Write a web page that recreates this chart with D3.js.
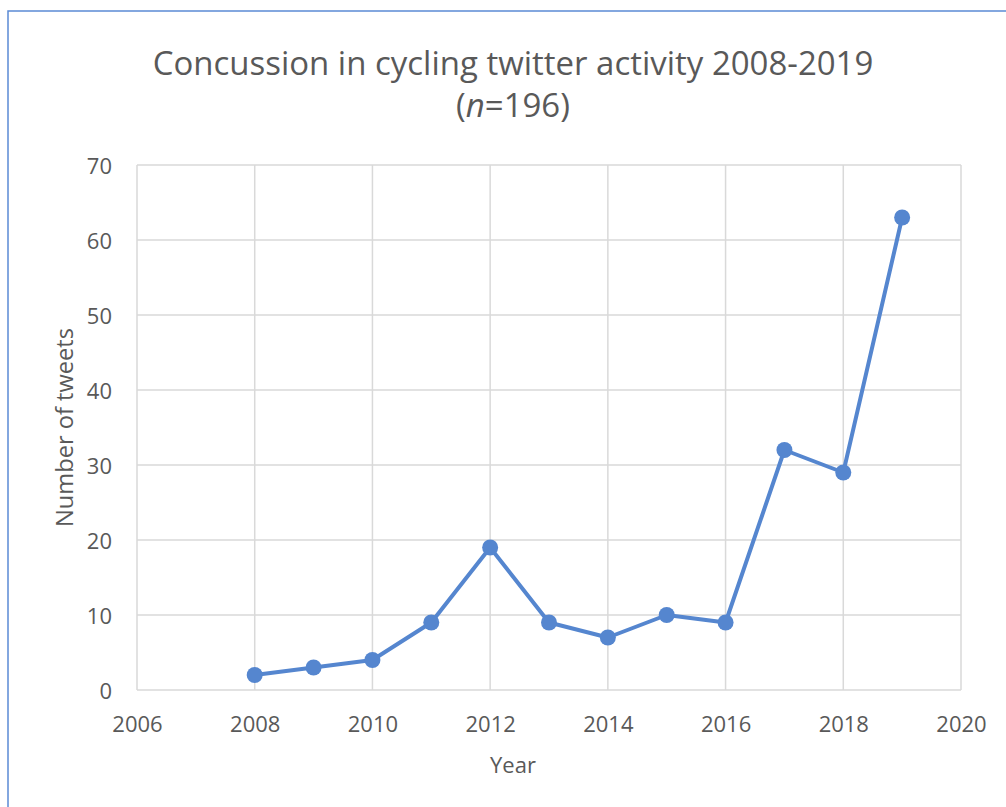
<!DOCTYPE html>
<html><head><meta charset="utf-8">
<script src="https://cdn.jsdelivr.net/npm/d3@7"></script>
<style>body{margin:0;background:#fff;} text{font-family:"Open Sans",sans-serif;fill:#595959;}</style>
</head><body>
<svg id="c" width="1006" height="807"></svg>
<script>
const years = [2008,2009,2010,2011,2012,2013,2014,2015,2016,2017,2018,2019];
const tweets = [2,3,4,9,19,9,7,10,9,32,29,63];
const xTicks = [2006,2008,2010,2012,2014,2016,2018,2020];
const yTicks = [0,10,20,30,40,50,60,70];
const titleLine1 = "Concussion in cycling twitter activity 2008-2019";

const svg = d3.select("#c");
const L=137,R=961,T=165,B=690;
const x = d3.scaleLinear().domain([2006,2020]).range([L,R]);
const y = d3.scaleLinear().domain([0,70]).range([B,T]);

svg.append("rect").attr("x",8).attr("y",11).attr("width",1200).attr("height",1000)
  .attr("fill","none").attr("stroke","#5b8bd5").attr("stroke-width",1.5);

const g = svg.append("g");
g.selectAll(".hg").data(yTicks).join("line")
  .attr("x1",L).attr("x2",R).attr("y1",d=>y(d)).attr("y2",d=>y(d))
  .attr("stroke","#d9d9d9").attr("stroke-width",1.5);
g.selectAll(".vg").data(xTicks).join("line").attr("class","vg")
  .attr("x1",d=>x(d)).attr("x2",d=>x(d)).attr("y1",T).attr("y2",B)
  .attr("stroke","#d9d9d9").attr("stroke-width",1.5);

const xa = svg.append("g").attr("transform",`translate(0,${B})`)
  .call(d3.axisBottom(x).tickValues(xTicks).tickFormat(d3.format("d")).tickSize(0).tickPadding(26));
xa.select(".domain").remove();
xa.selectAll("text").attr("font-size",22).attr("font-family","Open Sans").attr("fill","#595959");
const ya = svg.append("g").attr("transform",`translate(${L},0)`)
  .call(d3.axisLeft(y).tickValues(yTicks).tickSize(0).tickPadding(25));
ya.select(".domain").remove();
ya.selectAll("text").attr("font-size",22).attr("font-family","Open Sans").attr("fill","#595959").attr("dy","0.4em");

const line = d3.line().x((d,i)=>x(years[i])).y(d=>y(d));
svg.append("path").datum(tweets).attr("d",line).attr("fill","none")
  .attr("stroke","#5586cf").attr("stroke-width",4).attr("stroke-linejoin","round");
svg.selectAll(".pt").data(tweets).join("circle")
  .attr("cx",(d,i)=>x(years[i])).attr("cy",d=>y(d)).attr("r",8).attr("fill","#5586cf");

const t1 = svg.append("text").attr("x",513).attr("y",75).attr("text-anchor","middle")
  .attr("font-size",30).text(titleLine1);
const w = t1.node().getComputedTextLength();
const fs = 30*721/w;
t1.attr("font-size",fs);
const t2 = svg.append("text").attr("x",513).attr("y",117).attr("text-anchor","middle").attr("font-size",fs);
t2.append("tspan").text("(");
t2.append("tspan").attr("font-style","italic").text("n");
t2.append("tspan").text("=196)");

svg.append("text").attr("x",513).attr("y",773).attr("text-anchor","middle").attr("font-size",22).text("Year");
const yt = svg.append("text").attr("transform",`translate(73,${(T+B)/2}) rotate(-90)`).attr("text-anchor","middle")
  .attr("font-size",22).text("Number of tweets");
const yw = yt.node().getComputedTextLength();
yt.attr("font-size",22*199/yw);
</script>
</body></html>
